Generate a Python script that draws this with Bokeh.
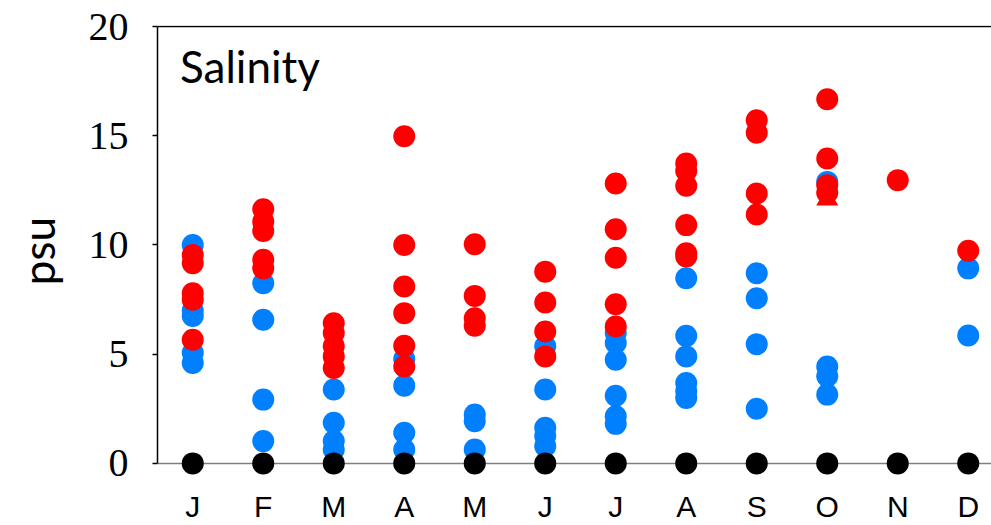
from bokeh.plotting import figure
from bokeh.models import Range1d, FixedTicker, Span, Label, LinearAxis
from bokeh.embed import file_html
from bokeh.resources import INLINE

months = ["J", "F", "M", "A", "M", "J", "J", "A", "S", "O", "N", "D"]

blue_values = [
    [10.0, 7.0, 6.75, 5.07, 4.6],
    [8.25, 6.58, 2.92, 1.02],
    [3.38, 1.86, 1.02, 0.64],
    [4.78, 3.56, 1.4, 0.64],
    [2.24, 1.93, 0.64],
    [5.36, 3.38, 1.63, 1.25, 0.79],
    [5.97, 5.51, 4.75, 3.1, 2.16, 1.81],
    [8.48, 5.84, 4.9, 3.68, 3.3, 3.0],
    [8.71, 7.56, 5.46, 2.5],
    [12.89, 4.44, 3.99, 3.15],
    [],
    [8.93, 5.86],
]

red_values = [
    [9.54, 9.16, 7.79, 7.49, 5.66],
    [11.64, 11.07, 10.64, 9.32, 8.93],
    [6.42, 5.97, 5.36, 4.9, 4.37],
    [14.98, 10.0, 8.1, 6.88, 5.39, 4.44],
    [10.03, 7.67, 6.65, 6.3],
    [8.78, 7.37, 6.04, 4.9],
    [12.82, 10.72, 9.42, 7.29, 6.27],
    [13.73, 13.39, 12.71, 10.91, 9.62, 9.47],
    [15.71, 15.14, 12.36, 11.4],
    [16.67, 13.96, 12.74, 12.39],
    [12.97],
    [9.74],
]

red_triangle_values = [[], [], [], [], [], [], [], [], [], [12.1], [], []]

black_values = [[0], [0], [0], [0], [0], [0], [0], [0], [0], [0], [0], [0]]

y_ticks = [0, 5, 10, 15, 20]


def flatten(groups):
    xs, ys = [], []
    for i, vals in enumerate(groups):
        for v in vals:
            xs.append(i)
            ys.append(v)
    return xs, ys


p = figure(width=991, height=525,
           x_range=Range1d(-0.5, 11.33), y_range=Range1d(-0.6, 20.05),
           output_backend="svg", toolbar_location=None,
           x_axis_type=None, y_axis_type=None,
           min_border_left=157, min_border_right=0,
           min_border_top=25, min_border_bottom=48)
p.outline_line_color = None
p.background_fill_color = "white"
p.border_fill_color = "white"

# axes
xaxis = LinearAxis(ticker=FixedTicker(ticks=list(range(len(months)))),
                   major_label_overrides={i: m for i, m in enumerate(months)})
xaxis.axis_line_color = None
xaxis.major_tick_line_color = None
xaxis.minor_tick_line_color = None
xaxis.major_tick_out = 0
xaxis.major_label_standoff = 13
xaxis.major_label_text_font = "Liberation Sans"
xaxis.major_label_text_font_size = "30px"
xaxis.major_label_text_color = "black"
p.add_layout(xaxis, "below")

yaxis = LinearAxis(ticker=FixedTicker(ticks=y_ticks), bounds=(0, 20), axis_label="psu")
yaxis.axis_line_color = "black"
yaxis.axis_line_width = 1.5
yaxis.major_tick_line_color = "black"
yaxis.major_tick_line_width = 1.5
yaxis.major_tick_out = 5
yaxis.major_tick_in = 0
yaxis.minor_tick_line_color = None
yaxis.major_label_standoff = 24
yaxis.major_label_text_font = "Liberation Serif"
yaxis.major_label_text_font_size = "40px"
yaxis.major_label_text_color = "black"
yaxis.axis_label_text_font = "Lato"
yaxis.axis_label_text_font_size = "44px"
yaxis.axis_label_text_font_style = "normal"
yaxis.axis_label_text_color = "black"
yaxis.axis_label_standoff = 22
p.add_layout(yaxis, "left")

p.add_layout(Span(location=0, dimension="width", line_color="#808080",
                  line_width=1.5, level="underlay"))
p.add_layout(Span(location=20, dimension="width", line_color="black",
                  line_width=1.5, level="underlay"))

bx, by = flatten(blue_values)
p.scatter(bx, by, marker="circle", size=22, fill_color="#0080FF", line_color=None)
rx, ry = flatten(red_values)
p.scatter(rx, ry, marker="circle", size=22, fill_color="#FF0000", line_color=None)
tx, ty = flatten(red_triangle_values)
p.scatter(tx, ty, marker="triangle", size=22, fill_color="#FF0000", line_color=None)
kx, ky = flatten(black_values)
p.scatter(kx, ky, marker="circle", size=22, fill_color="black", line_color=None)

p.add_layout(Label(x=-0.18, y=17.0, text="Salinity", text_font="Lato",
                   text_font_size="44px", text_color="black"))

open("out.html", "w").write(file_html(p, INLINE))
